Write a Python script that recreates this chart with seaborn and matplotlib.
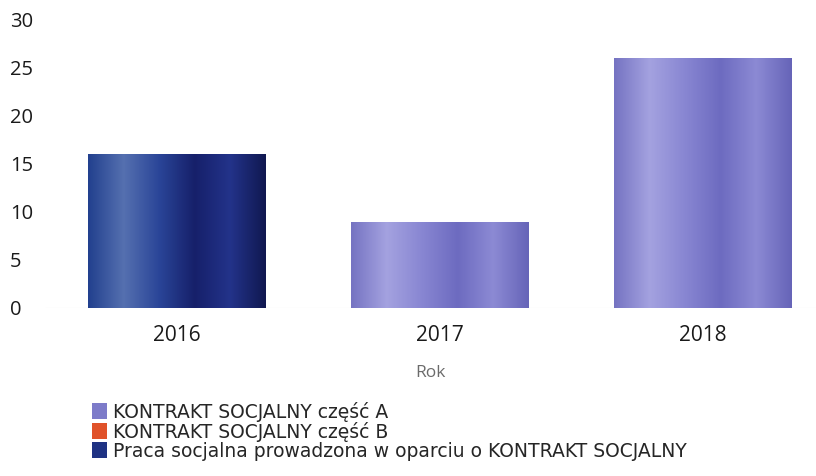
import numpy as np
import pandas as pd
import matplotlib.pyplot as plt
import seaborn as sns
from matplotlib.colors import LinearSegmentedColormap
from matplotlib.patches import Patch

years = ["2016", "2017", "2018"]
series = [
    "KONTRAKT SOCJALNY część A",
    "KONTRAKT SOCJALNY część B",
    "Praca socjalna prowadzona w oparciu o KONTRAKT SOCJALNY",
]
part_a = [0, 9, 26]
part_b = [0, 0, 0]
praca = [16, 0, 0]
y_ticks = [0, 5, 10, 15, 20, 25, 30]

colors = {series[0]: "#7d7bc9", series[1]: "#e0522a", series[2]: "#1f3283"}
stripes = {
    series[0]: ["#7573c2", "#a4a2e0", "#8886d2", "#6d6bc0", "#8c8ad4", "#6664b8"],
    series[1]: ["#c8401e", "#f07a4a", "#e0522a", "#c8401e", "#e06030", "#b83818"],
    series[2]: ["#22408e", "#5570b0", "#2a4598", "#16206a", "#23338a", "#101850"],
}

rows = []
for s, vals in zip(series, [part_a, part_b, praca]):
    for yr, v in zip(years, vals):
        rows.append({"Rok": yr, "Seria": s, "Wartość": v})
df = pd.DataFrame(rows)

sns.set_theme(style="white")
plt.rcParams["font.family"] = ["Open Sans", "DejaVu Sans"]

fig = plt.figure(figsize=(8.16, 4.76), dpi=100)
ax = fig.add_axes([0.055, 0.353, 1.0 - 0.055, 0.958 - 0.353])

sns.barplot(data=df, x="Rok", y="Wartość", hue="Seria", hue_order=series,
            palette=colors, dodge=False, width=0.673, legend=False, ax=ax)

# gradient fill, clipped to each bar
for i, s in enumerate(series):
    cmap = LinearSegmentedColormap.from_list(f"g{i}", stripes[s])
    grad = np.linspace(0, 1, 256).reshape(1, -1)
    for bar in ax.containers[i]:
        h = bar.get_height()
        if h <= 0:
            continue
        x0 = bar.get_x()
        w = bar.get_width()
        im = ax.imshow(grad, cmap=cmap, aspect="auto",
                       extent=[x0, x0 + w, 0, h], zorder=bar.get_zorder() + 0.1)
        im.set_clip_path(bar)

ax.set_xlim(-0.5, -0.5 + 771 / 263)
ax.set_ylim(0, 30)
ax.set_yticks(y_ticks)
ax.set_yticklabels([str(t) for t in y_ticks])
for lab in ax.get_yticklabels():
    lab.set_horizontalalignment("left")
ax.tick_params(axis="y", pad=25, labelsize=14.5, length=0, colors="#1a1a1a")
ax.tick_params(axis="x", pad=12, labelsize=15, length=0, colors="#1a1a1a")
ax.set_ylabel("")
ax.set_xlabel("Rok", fontsize=12.5, color="#6b6b6b", labelpad=14)
sns.despine(ax=ax, left=True, bottom=True)
ax.axhline(0, color="#e4e4e4", lw=0.8, zorder=0)

handles = [Patch(facecolor=colors[s], edgecolor="none") for s in series]
fig.legend(handles, series, loc="upper left", bbox_to_anchor=(0.103, 0.172),
           frameon=False, handlelength=0.85, handleheight=0.95,
           handletextpad=0.3, labelspacing=0.0, borderaxespad=0,
           prop={"family": "DejaVu Sans", "size": 13.5})

fig.savefig("out.png", dpi=100)
